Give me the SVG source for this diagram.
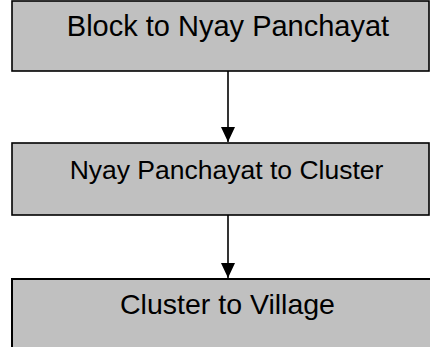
<svg xmlns="http://www.w3.org/2000/svg" width="430" height="347" viewBox="0 0 430 347">
<style>
.box{fill:#c0c0c0;stroke:#000;stroke-width:1.6}
.lbl{font-family:"Liberation Sans",Arial,sans-serif;fill:#000;text-anchor:middle}
.conn{stroke:#000;stroke-width:1.6;fill:none}
</style>
<defs>
<marker id="ah" markerUnits="userSpaceOnUse" markerWidth="14" markerHeight="16" refX="15" refY="7" orient="auto">
<path d="M0,0 L15,7 L0,14 Z" fill="#000"/>
</marker>
</defs>
<rect width="430" height="347" fill="#fff"/>
<g id="node1">
<rect class="box" x="12" y="1" width="417" height="70"/>
<text class="lbl" x="228" y="36" font-size="29">Block to Nyay Panchayat</text>
</g>
<g id="node2">
<rect class="box" x="12" y="143" width="417" height="72"/>
<text class="lbl" x="226.5" y="178.5" font-size="26.5">Nyay Panchayat to Cluster</text>
</g>
<g id="node3">
<rect class="box" x="12" y="279" width="440" height="90" style="stroke-width:2"/>
<text class="lbl" x="227.5" y="313.5" font-size="28.5">Cluster to Village</text>
</g>
<g id="connectors">
<line class="conn" x1="228" y1="71" x2="228" y2="142" marker-end="url(#ah)"/>
<line class="conn" x1="228" y1="215" x2="228" y2="278" marker-end="url(#ah)"/>
</g>
</svg>
